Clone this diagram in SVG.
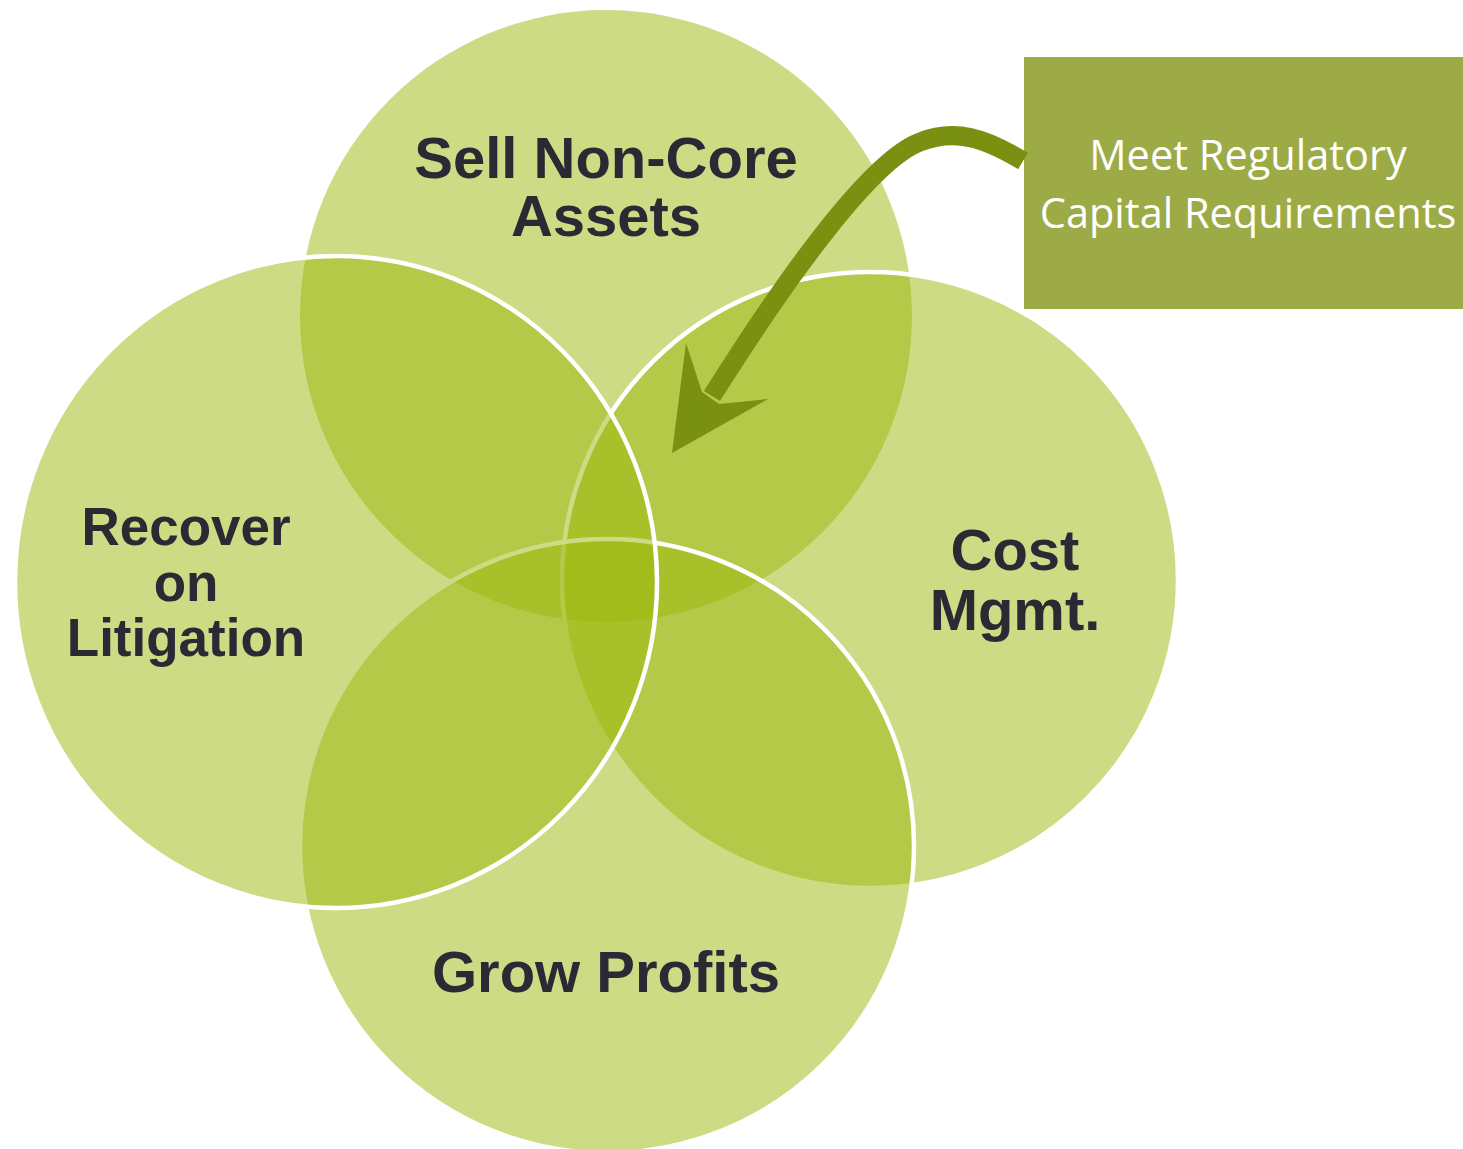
<svg xmlns="http://www.w3.org/2000/svg" width="1463" height="1149" viewBox="0 0 1463 1149">
  <style>
    .c { fill: #9bb70b; fill-opacity: 0.5; }
    .s { stroke: #ffffff; stroke-width: 4.5; }
    .lbl { font-family: "Liberation Sans", Arial, sans-serif; font-weight: bold; fill: #2a2a35; text-anchor: middle; }
    .box-t { font-family: "Open Sans", "Noto Sans", sans-serif; font-size: 41.5px; fill: #ffffff; text-anchor: middle; }
  </style>
  <rect width="1463" height="1149" fill="#ffffff"/>
  <g id="node-sell">
    <circle class="c" cx="606" cy="316" r="306"/>
  </g>
  <g id="node-cost">
    <circle class="c s" cx="870" cy="580" r="308"/>
  </g>
  <g id="node-grow">
    <circle class="c s" cx="607" cy="846" r="307"/>
  </g>
  <g id="node-recover">
    <ellipse class="c s" cx="336" cy="582" rx="321" ry="326"/>
  </g>
  <g id="labels">
    <text class="lbl" font-size="58" x="606" y="178">Sell Non-Core</text>
    <text class="lbl" font-size="58" x="606" y="236">Assets</text>
    <text class="lbl" font-size="58" x="1015" y="570">Cost</text>
    <text class="lbl" font-size="58" x="1015" y="630">Mgmt.</text>
    <text class="lbl" font-size="58" x="606" y="992">Grow Profits</text>
    <text class="lbl" font-size="53" x="186" y="545">Recover</text>
    <text class="lbl" font-size="53" x="186" y="601">on</text>
    <text class="lbl" font-size="53" x="186" y="656">Litigation</text>
  </g>
  <g id="node-regulatory">
    <rect x="1024" y="57" width="439" height="252" fill="#9dab47"/>
    <text class="box-t" x="1248" y="170">Meet Regulatory</text>
    <text class="box-t" x="1248" y="228">Capital Requirements</text>
  </g>
  <g id="connectors">
    <path d="M1023,161 C985,138 955,128 920,142 C872,160 790,272 712,396" fill="none" stroke="#7a9010" stroke-width="19"/>
    <polygon points="672,453 686,343 702,392 719,404 768,399" fill="#7a9010"/>
  </g>
</svg>
